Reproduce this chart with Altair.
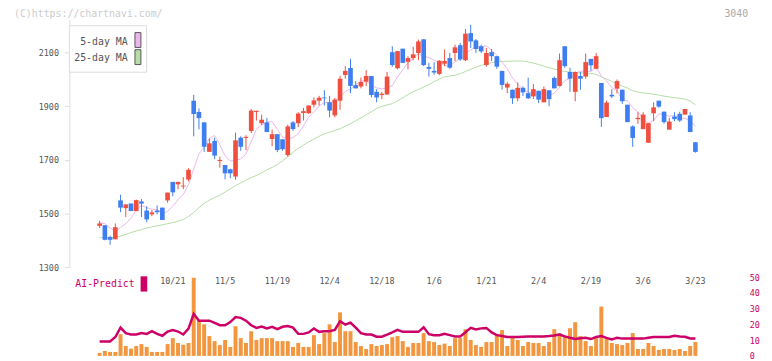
import altair as alt
import pandas as pd

# ---------------- data ----------------
opens = [1454, 1456, 1412, 1404, 1549, 1520, 1537, 1509, 1545, 1511,
         1497, 1511, 1522, 1549, 1618, 1609, 1601, 1627, 1921, 1879,
         1840, 1730, 1771, 1696, 1681, 1665, 1638, 1783, 1782, 1808,
         1879, 1837, 1840, 1778, 1796, 1777, 1718, 1840, 1837, 1875,
         1874, 1906, 1921, 1933, 1915, 1866, 1921, 2017, 2043, 1979,
         1974, 1992, 2013, 1954, 1942, 1944, 2102, 2042, 2115, 2066,
         2080, 2099, 2150, 2047, 2032, 2021, 2059, 2080, 2099, 2128,
         2072, 2173, 2146, 2124, 2054, 2102, 2087, 2032, 1970, 1962,
         1930, 1969, 1949, 1937, 1958, 1915, 1960, 2006, 1976, 2124,
         2028, 1954, 2013, 2011, 2077, 2040, 1987, 1860, 1943, 1966,
         1962, 1906, 1825, 1852, 1815, 1764, 1874, 1921, 1880, 1813,
         1862, 1872, 1869, 1866, 1766]
highs = [1473, 1457, 1417, 1463, 1570, 1534, 1537, 1552, 1554, 1527,
         1513, 1530, 1522, 1578, 1618, 1618, 1636, 1669, 1943, 1892,
         1840, 1780, 1783, 1712, 1681, 1667, 1802, 1788, 1792, 1890,
         1884, 1869, 1857, 1813, 1796, 1777, 1832, 1845, 1878, 1894,
         1903, 1933, 1939, 1960, 1939, 1931, 2014, 2050, 2077, 1995,
         2007, 2035, 2013, 1964, 1954, 2028, 2124, 2106, 2115, 2087,
         2122, 2149, 2150, 2062, 2065, 2072, 2112, 2099, 2130, 2136,
         2188, 2204, 2151, 2130, 2118, 2114, 2087, 2032, 1991, 1962,
         1989, 1974, 2007, 1983, 1958, 1974, 1960, 2011, 2097, 2124,
         2044, 2030, 2028, 2097, 2077, 2099, 1987, 1921, 1964, 2000,
         1962, 1906, 1829, 1878, 1878, 1837, 1915, 1921, 1880, 1857,
         1878, 1880, 1890, 1878, 1766]
lows = [1446, 1400, 1383, 1404, 1505, 1487, 1509, 1509, 1487, 1468,
        1490, 1497, 1476, 1540, 1564, 1591, 1591, 1620, 1788, 1814,
        1730, 1730, 1703, 1671, 1628, 1632, 1626, 1734, 1736, 1800,
        1847, 1830, 1804, 1751, 1729, 1734, 1712, 1808, 1823, 1847,
        1872, 1896, 1903, 1903, 1859, 1859, 1887, 2003, 1949, 1967,
        1967, 1976, 1933, 1915, 1927, 1944, 2048, 2038, 2062, 2038,
        2071, 2072, 2050, 2011, 2018, 2016, 2050, 2040, 2069, 2070,
        2069, 2118, 2099, 2099, 2048, 2069, 2040, 1962, 1949, 1909,
        1919, 1939, 1927, 1927, 1912, 1915, 1900, 1967, 1974, 2044,
        1954, 1919, 1962, 2003, 2032, 2038, 1823, 1860, 1931, 1948,
        1909, 1841, 1749, 1835, 1815, 1764, 1845, 1894, 1835, 1813,
        1845, 1841, 1869, 1804, 1727]
closes = [1463, 1402, 1402, 1449, 1522, 1534, 1509, 1550, 1537, 1478,
          1504, 1505, 1476, 1578, 1579, 1618, 1604, 1663, 1871, 1856,
          1749, 1762, 1716, 1700, 1650, 1650, 1773, 1749, 1786, 1884,
          1883, 1850, 1804, 1796, 1737, 1740, 1825, 1815, 1873, 1882,
          1903, 1922, 1932, 1930, 1884, 1925, 2003, 2032, 1976, 1967,
          1991, 2013, 1942, 1933, 1947, 2011, 2054, 2106, 2062, 2080,
          2094, 2142, 2054, 2040, 2026, 2070, 2069, 2044, 2120, 2075,
          2171, 2142, 2114, 2105, 2099, 2087, 2048, 1980, 1984, 1930,
          1969, 1952, 1930, 1964, 1925, 1964, 1927, 1967, 2072, 2050,
          2003, 2028, 2003, 2065, 2053, 2087, 1856, 1914, 1937, 1994,
          1919, 1841, 1782, 1857, 1869, 1837, 1896, 1899, 1841, 1843,
          1852, 1847, 1890, 1804, 1730]
ma5 = [1466, 1462, 1446, 1433, 1448, 1462, 1483, 1513, 1530, 1522,
       1516, 1515, 1500, 1508, 1528, 1551, 1571, 1608, 1667, 1722,
       1749, 1780, 1791, 1757, 1715, 1696, 1698, 1704, 1722, 1768,
       1815, 1830, 1841, 1843, 1814, 1785, 1780, 1783, 1798, 1827,
       1860, 1879, 1902, 1914, 1914, 1919, 1935, 1955, 1964, 1981,
       1994, 1996, 1978, 1969, 1965, 1969, 1977, 2010, 2036, 2063,
       2079, 2097, 2086, 2082, 2071, 2066, 2052, 2050, 2066, 2076,
       2096, 2110, 2124, 2121, 2126, 2109, 2091, 2064, 2040, 2006,
       1982, 1963, 1953, 1949, 1948, 1947, 1942, 1949, 1971, 1996,
       2004, 2024, 2031, 2030, 2030, 2047, 2013, 1995, 1969, 1958,
       1924, 1921, 1895, 1879, 1854, 1837, 1848, 1872, 1868, 1863,
       1866, 1856, 1855, 1847, 1825]
ma25 = [1410, 1410, 1410, 1412, 1416, 1422, 1429, 1435, 1440, 1446,
        1450, 1454, 1458, 1462, 1466, 1471, 1478, 1489, 1504, 1522,
        1538, 1550, 1560, 1568, 1580, 1592, 1604, 1614, 1625, 1634,
        1642, 1652, 1663, 1672, 1682, 1697, 1712, 1728, 1743, 1755,
        1767, 1778, 1788, 1797, 1804, 1810, 1816, 1826, 1835, 1846,
        1857, 1868, 1880, 1892, 1900, 1905, 1910, 1920, 1932, 1944,
        1955, 1963, 1972, 1981, 1992, 2002, 2010, 2013, 2016, 2022,
        2030, 2038, 2046, 2053, 2058, 2063, 2066, 2067, 2068, 2069,
        2069, 2069, 2066, 2061, 2056, 2050, 2044, 2039, 2033, 2030,
        2028, 2026, 2025, 2024, 2023, 2019, 2010, 2002, 1993, 1983,
        1976, 1968, 1958, 1953, 1950, 1948, 1945, 1942, 1938, 1935,
        1932, 1930, 1927, 1920, 1905]
volume = [1.9, 3.1, 2.5, 2.5, 13.8, 6.3, 4.6, 6.3, 7.5, 5.7,
          2.5, 2.5, 2.5, 7.5, 11.3, 8.2, 7.1, 8.2, 49.7, 22.9,
          20.1, 12.6, 9.4, 6.9, 10.1, 5.7, 18.9, 11.3, 8.2, 15.7,
          10.1, 11.3, 11.3, 11.3, 9.4, 9.4, 9.4, 5.7, 8.2, 5.7,
          5.7, 13.2, 7.5, 14.5, 20.1, 8.8, 27.7, 15.7, 15.7, 8.8,
          6.3, 4.4, 7.5, 6.3, 6.9, 7.5, 11.9, 12.6, 9.4, 5.7,
          8.2, 8.2, 14.5, 9.4, 8.8, 6.9, 7.8, 6.3, 11.3, 11.3,
          17.0, 10.1, 6.9, 5.7, 8.8, 8.8, 13.8, 16.4, 6.3, 11.9,
          10.1, 6.3, 8.8, 8.2, 8.2, 6.3, 8.8, 17.0, 14.5, 12.6,
          17.6, 21.4, 12.6, 9.4, 6.3, 11.3, 31.4, 11.3, 8.2, 7.5,
          6.9, 8.2, 14.5, 4.4, 4.4, 8.2, 6.3, 3.8, 4.4, 4.4,
          3.8, 4.4, 3.1, 6.3, 8.8]
ai_predict = [9.2, 9.2, 9.2, 12.0, 18.0, 14.5, 13.6, 13.6, 14.5, 14.0,
              15.7, 14.0, 12.8, 15.5, 16.4, 15.5, 13.6, 17.4, 26.8, 22.4,
              22.4, 22.4, 21.0, 19.5, 19.5, 21.5, 24.7, 24.2, 22.4, 19.5,
              17.8, 18.7, 17.5, 18.5, 17.0, 18.5, 19.0, 18.0, 14.0, 14.0,
              14.9, 17.4, 15.3, 15.7, 15.7, 16.5, 22.0, 19.9, 21.2, 18.0,
              14.5, 13.6, 13.6, 12.2, 12.2, 13.5, 14.9, 16.6, 15.3, 15.3,
              15.3, 15.3, 18.2, 13.8, 13.2, 13.2, 14.0, 13.2, 12.4, 12.4,
              15.0, 17.8, 16.8, 17.5, 17.8, 14.9, 13.2, 12.6, 12.0, 12.0,
              12.0, 12.2, 12.4, 12.4, 12.4, 12.4, 12.6, 13.0, 13.6, 12.4,
              11.5, 10.7, 11.2, 11.5, 10.7, 12.0, 12.6, 11.5, 10.5, 11.5,
              11.0, 11.0, 11.0, 11.0, 11.0, 11.5, 12.0, 12.0, 12.0, 12.0,
              12.8, 12.4, 12.2, 11.1, 11.1]
date_index = [14, 24, 34, 44, 54, 64, 74, 84, 94, 104, 114]
date_labels = ["10/21", "11/5", "11/19", "12/4", "12/18", "1/6",
               "1/21", "2/4", "2/19", "3/6", "3/23"]
price_ticks = [1300, 1500, 1700, 1900, 2100]
ai_ticks = [0, 10, 20, 30, 40, 50]

# ---------------- layout / style ----------------
FONT = "DejaVu Sans Mono"
W, H = 682, 250
XMIN, XMAX = -4.85, 122.39
x_tick_vals = [XMIN + k * (XMAX - XMIN) / 11 for k in range(12)]
UP, DOWN = "#f04e3e", "#3f7ef0"
PINK, GREEN = "#ecb6ec", "#b6dca6"
MAGENTA, ORANGE = "#cc0066", "#f2973f"
SUB_RANGE = [339.7, 260.3]

n = len(closes)
df = pd.DataFrame({
    "i": list(range(n)), "open": opens, "high": highs, "low": lows,
    "close": closes, "ma5": ma5, "ma25": ma25, "vol": volume, "ai": ai_predict,
})
df["dir"] = ["up" if c >= o else "down" for o, c in zip(opens, closes)]
dates = pd.DataFrame({"i": date_index, "label": date_labels})

xs = alt.Scale(domain=[XMIN, XMAX], nice=False, zero=False)
ps = alt.Scale(domain=[1300, 2223], nice=False, zero=False)
ss = alt.Scale(domain=[0, 50], range=SUB_RANGE, nice=False)
col = alt.Color("dir:N", scale=alt.Scale(domain=["up", "down"], range=[UP, DOWN]), legend=None)

base = alt.Chart(df)

wicks = base.mark_rule(strokeWidth=1).encode(
    x=alt.X("i:Q", scale=xs, axis=alt.Axis(values=x_tick_vals, labels=False, ticks=True,
                                           tickSize=4, tickColor="#dddddd", domainColor="#dddddd",
                                           grid=False, title=None)),
    y=alt.Y("low:Q", scale=ps, axis=alt.Axis(values=price_ticks, format="d", labelFont=FONT,
                                             labelFontSize=8.5, labelColor="#555555",
                                             tickColor="#dddddd", domainColor="#dddddd",
                                             tickSize=5, labelPadding=6, grid=False, title=None)),
    y2="high:Q",
    color=col,
)
bodies = base.mark_bar(size=4.7).encode(
    x=alt.X("i:Q", scale=xs, axis=None),
    y=alt.Y("open:Q", scale=ps, axis=None),
    y2="close:Q",
    color=col,
)
line5 = base.mark_line(strokeWidth=1, color=PINK).encode(
    x=alt.X("i:Q", scale=xs, axis=None), y=alt.Y("ma5:Q", scale=ps, axis=None))
line25 = base.mark_line(strokeWidth=1, color=GREEN).encode(
    x=alt.X("i:Q", scale=xs, axis=None), y=alt.Y("ma25:Q", scale=ps, axis=None))

vol = base.mark_bar(size=4, color=ORANGE).encode(
    x=alt.X("i:Q", scale=xs, axis=None),
    y=alt.Y("vol:Q", scale=ss, axis=None),
)
ai = base.mark_line(strokeWidth=2.5, color=MAGENTA).encode(
    x=alt.X("i:Q", scale=xs, axis=None),
    y=alt.Y("ai:Q", scale=ss, axis=alt.Axis(orient="right", values=ai_ticks, ticks=False,
                                            domain=False, grid=False, labelFont=FONT,
                                            labelFontSize=8.5, labelColor=MAGENTA,
                                            labelPadding=5, title=None)),
)

date_text = alt.Chart(dates).mark_text(font=FONT, fontSize=8.5, color="#555555",
                                       baseline="middle", align="center").encode(
    x=alt.X("i:Q", scale=xs, axis=None), y=alt.value(264.5), text="label:N")

one = pd.DataFrame({"k": [0]})
legend_box = alt.Chart(one).mark_rect(fill="white", stroke="#dddddd", strokeWidth=1).encode(
    x=alt.value(0), x2=alt.value(78), y=alt.value(6), y2=alt.value(53))
sw5 = alt.Chart(one).mark_rect(fill=PINK, stroke="#555555", strokeWidth=1).encode(
    x=alt.value(66.3), x2=alt.value(72.3), y=alt.value(13), y2=alt.value(28))
sw25 = alt.Chart(one).mark_rect(fill=GREEN, stroke="#555555", strokeWidth=1).encode(
    x=alt.value(66.3), x2=alt.value(72.3), y=alt.value(30.3), y2=alt.value(45.3))
t5 = alt.Chart(pd.DataFrame({"t": ["5-day MA"]})).mark_text(
    font=FONT, fontSize=10, color="#555555", align="right", baseline="middle").encode(
    x=alt.value(59), y=alt.value(22.5), text="t:N")
t25 = alt.Chart(pd.DataFrame({"t": ["25-day MA"]})).mark_text(
    font=FONT, fontSize=10, color="#555555", align="right", baseline="middle").encode(
    x=alt.value(59), y=alt.value(39), text="t:N")
ai_label = alt.Chart(pd.DataFrame({"t": ["AI-Predict"]})).mark_text(
    font=FONT, fontSize=10, color=MAGENTA, align="left", baseline="middle").encode(
    x=alt.value(6), y=alt.value(267.5), text="t:N")
ai_sw = alt.Chart(one).mark_rect(fill=MAGENTA).encode(
    x=alt.value(72), x2=alt.value(78.7), y=alt.value(259.3), y2=alt.value(274.7))
wm = alt.Chart(pd.DataFrame({"t": ["(C)https://chartnavi.com/"]})).mark_text(
    font=FONT, fontSize=10, color="#cccccc", align="left", baseline="middle").encode(
    x=alt.value(-56), y=alt.value(-5.5), text="t:N")
code = alt.Chart(pd.DataFrame({"t": ["3040"]})).mark_text(
    font=FONT, fontSize=10, color="#aaaaaa", align="right", baseline="middle").encode(
    x=alt.value(686), y=alt.value(-6), text="t:N")

chart = alt.layer(
    vol, ai, line25, line5, wicks, bodies, date_text,
    legend_box, sw5, sw25, t5, t25, ai_label, ai_sw, wm, code,
).resolve_scale(y="independent").properties(
    width=W, height=H,
    autosize=alt.AutoSizeParams(type="none"),
    padding={"left": 62, "top": 10, "right": 20, "bottom": 93},
    background="white",
).configure_view(stroke=None)

chart.save("out.html", embed_options={"renderer": "svg", "actions": False})
